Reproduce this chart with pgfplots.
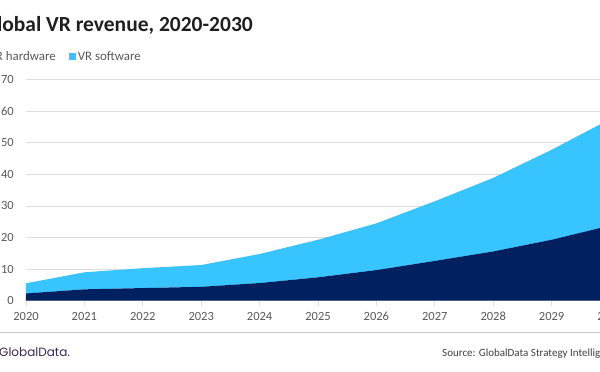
\documentclass[border=0pt]{standalone}
\usepackage{fontspec}
\setmainfont{Carlito}
\newfontfamily\logofont{Poppins}
\usepackage{pgfplots}
\pgfplotsset{compat=1.18}
\definecolor{hw}{HTML}{002060}
\definecolor{sw}{HTML}{38C4FF}
\definecolor{gridc}{HTML}{DDDDDD}
\definecolor{txt}{HTML}{595959}
\definecolor{logoc}{HTML}{3A2856}
\begin{document}
\begin{tikzpicture}[x=1pt,y=1pt]
\useasboundingbox (0,0) rectangle (600,372);
\clip (0,0) rectangle (600,372);
\fill[white] (0,0) rectangle (600,372);
\begin{axis}[
  at={(26pt,71.3pt)}, anchor=south west,
  scale only axis, width=584pt, height=221pt,
  xmin=2020, xmax=2030, ymin=0, ymax=70,
  xtick={2020,2021,...,2030}, ytick={0,10,...,70},
  axis line style={draw=none},
  xtick style={draw=none}, ytick style={draw=none},
  ymajorgrids, grid style={gridc, line width=0.9pt},
  stack plots=y,
  /pgf/number format/assume math mode=true,
  /pgf/number format/1000 sep={},
  ticklabel style={font=\fontsize{12.5}{14}\selectfont, text=txt},
  xticklabel style={inner sep=0pt, anchor=north, yshift=-11pt},
  yticklabel style={inner sep=0pt, anchor=east, xshift=-12pt},
  legend columns=2,
  legend style={at={(axis description cs:-0.079,1.105)}, anchor=west,
    draw=none, fill=none, inner sep=0pt,
    font=\fontsize{12.9}{14}\selectfont, text=txt,
    nodes={inner sep=1.5pt},
    /tikz/every even column/.append style={column sep=12pt}},
  legend image code/.code={\fill[#1] (0pt,-3.5pt) rectangle (7pt,3.5pt);},
  clip=false,
]
\addplot[fill=hw, draw=none] coordinates {
(2020,2.3) (2021,3.6) (2022,4.0) (2023,4.4) (2024,5.6) (2025,7.4)
(2026,9.7) (2027,12.6) (2028,15.6) (2029,19.3) (2030,23.8)} \closedcycle;
\addlegendentry{VR hardware}
\addplot[fill=sw, draw=none] coordinates {
(2020,3.2) (2021,5.4) (2022,6.3) (2023,6.9) (2024,9.2) (2025,11.9)
(2026,14.8) (2027,18.9) (2028,23.3) (2029,28.5) (2030,33.7)} \closedcycle;
\addlegendentry{VR software}
\end{axis}
\begin{axis}[
  at={(26pt,71.3pt)}, anchor=south west,
  scale only axis, width=584pt, height=221pt,
  xmin=2020, xmax=2030, ymin=0, ymax=70,
  xtick={2020,2021,...,2030}, ytick=\empty, xticklabels={},
  axis x line=bottom, axis y line=none,
  x axis line style={draw=none, -},
  tick align=outside, major tick length=5pt,
  xtick style={draw=gridc, line width=0.9pt},
  clip=false,
]
\end{axis}
\draw[gridc!80!gray, line width=1pt] (0,39.5) -- (600,39.5);
\node[anchor=base east, inner sep=0pt, text=black!88, font=\fontsize{21.5}{24}\selectfont\bfseries] at (253,340) {Global VR revenue, 2020-2030};
\node[anchor=base west, inner sep=0pt, text=logoc, font=\logofont\fontsize{12}{14}\selectfont] at (-1,15.5) {GlobalData.};
\node[anchor=base west, inner sep=0pt, text=black!75, font=\fontsize{11}{13}\selectfont] at (442,15.5) {Source: GlobalData Strategy Intelligence};
\end{tikzpicture}
\end{document}
